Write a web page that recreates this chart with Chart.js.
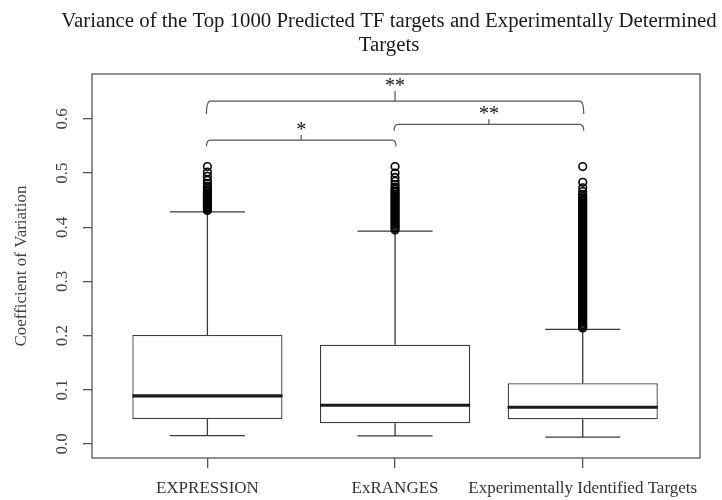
<!DOCTYPE html>
<html>
<head>
<meta charset="utf-8">
<script src="https://cdn.jsdelivr.net/npm/chart.js@4.4.1/dist/chart.umd.min.js"></script>
<style>
  html, body { margin: 0; padding: 0; background: #ffffff; }
  #wrap { width: 722px; height: 500px; }
</style>
</head>
<body>
<div id="wrap"><canvas id="chart" width="722" height="500"></canvas></div>
<script>
// Coefficient of variation per target set: five-number summaries
const categories = ['EXPRESSION', 'ExRANGES', 'Experimentally Identified Targets'];
const lowerWhisker  = [0.0153, 0.0148, 0.0124];
const firstQuartile = [0.0460, 0.0380, 0.0456];
const medians       = [0.0886, 0.0714, 0.0677];
const thirdQuartile = [0.2010, 0.1830, 0.1120];
const upperWhisker  = [0.4286, 0.3930, 0.2116];

// Points beyond the upper whisker
const expressionOutliers = [
  0.431, 0.433, 0.435, 0.437, 0.439, 0.441, 0.443, 0.445, 0.447, 0.449,
  0.451, 0.453, 0.455, 0.457, 0.459, 0.461, 0.463, 0.466, 0.469, 0.472,
  0.476, 0.481, 0.487, 0.494, 0.502, 0.512
];
const exrangesOutliers = [
  0.395, 0.398, 0.401, 0.404, 0.407, 0.410, 0.413, 0.416, 0.419, 0.422,
  0.425, 0.428, 0.431, 0.434, 0.437, 0.440, 0.443, 0.446, 0.449, 0.452,
  0.455, 0.458, 0.461, 0.464, 0.467, 0.470, 0.474, 0.479, 0.485, 0.492,
  0.500, 0.512
];
const experimentalOutliers = [
  0.214, 0.217, 0.220, 0.223, 0.226, 0.229, 0.232, 0.235, 0.238, 0.241,
  0.244, 0.247, 0.250, 0.253, 0.256, 0.259, 0.262, 0.265, 0.268, 0.271,
  0.274, 0.277, 0.280, 0.283, 0.286, 0.289, 0.292, 0.295, 0.298, 0.301,
  0.304, 0.307, 0.310, 0.313, 0.316, 0.319, 0.322, 0.325, 0.328, 0.331,
  0.334, 0.337, 0.340, 0.343, 0.346, 0.349, 0.352, 0.355, 0.358, 0.361,
  0.364, 0.367, 0.370, 0.373, 0.376, 0.379, 0.382, 0.385, 0.388, 0.391,
  0.394, 0.397, 0.400, 0.403, 0.406, 0.409, 0.412, 0.415, 0.418, 0.421,
  0.424, 0.427, 0.430, 0.433, 0.436, 0.439, 0.442, 0.445, 0.448, 0.451,
  0.454, 0.457, 0.461, 0.466, 0.473, 0.483, 0.512
];

const yTickValues = [0.0, 0.1, 0.2, 0.3, 0.4, 0.5, 0.6];

const titleLines = ['Variance of the Top 1000 Predicted TF targets and Experimentally Determined', 'Targets'];

// Pairwise significance brackets (category indices, label, height in CV units)
const comparisons = [
  { from: 0, to: 1, label: '*',  level: 0.561 },
  { from: 1, to: 2, label: '**', level: 0.590 },
  { from: 0, to: 2, label: '**', level: 0.633 }
];

const serif = "'Liberation Serif', 'Times New Roman', Times, serif";
const lineColor = '#3a3a3a';

const outlierPoints = [];
[expressionOutliers, exrangesOutliers, experimentalOutliers].forEach((vals, i) => {
  vals.forEach(v => outlierPoints.push({ x: i + 1, y: v }));
});

// Whiskers, medians, frame, title, rotated y labels and brackets
const boxExtras = {
  id: 'boxExtras',
  beforeDatasetsDraw(chart) {
    const { ctx, scales: { x, y } } = chart;
    ctx.save();
    ctx.strokeStyle = lineColor;
    ctx.lineWidth = 1.3;
    categories.forEach((c, i) => {
      const cx = x.getPixelForValue(i + 1);
      const capL = x.getPixelForValue(i + 1 - 0.2);
      const capR = x.getPixelForValue(i + 1 + 0.2);
      ctx.beginPath();
      ctx.moveTo(cx, y.getPixelForValue(thirdQuartile[i]));
      ctx.lineTo(cx, y.getPixelForValue(upperWhisker[i]));
      ctx.moveTo(cx, y.getPixelForValue(firstQuartile[i]));
      ctx.lineTo(cx, y.getPixelForValue(lowerWhisker[i]));
      ctx.moveTo(capL, y.getPixelForValue(upperWhisker[i]));
      ctx.lineTo(capR, y.getPixelForValue(upperWhisker[i]));
      ctx.moveTo(capL, y.getPixelForValue(lowerWhisker[i]));
      ctx.lineTo(capR, y.getPixelForValue(lowerWhisker[i]));
      ctx.stroke();
    });
    ctx.restore();
  },
  afterDatasetDraw(chart, args) {
    if (args.index !== 0) return;
    const { ctx, scales: { x, y } } = chart;
    ctx.save();
    ctx.strokeStyle = '#1a1a1a';
    ctx.lineWidth = 3.2;
    categories.forEach((c, i) => {
      const my = y.getPixelForValue(medians[i]);
      ctx.beginPath();
      ctx.moveTo(x.getPixelForValue(i + 1 - 0.4), my);
      ctx.lineTo(x.getPixelForValue(i + 1 + 0.4), my);
      ctx.stroke();
    });
    ctx.restore();
  },
  afterDraw(chart) {
    const { ctx, chartArea: a, scales: { x, y } } = chart;
    ctx.save();
    // plot frame
    ctx.strokeStyle = '#555';
    ctx.lineWidth = 1.3;
    ctx.strokeRect(a.left, a.top, a.right - a.left, a.bottom - a.top);

    // two-line title
    ctx.fillStyle = '#1a1a1a';
    ctx.font = '20.8px ' + serif;
    ctx.textAlign = 'center';
    ctx.textBaseline = 'middle';
    titleLines.forEach((t, k) => ctx.fillText(t, 389, 22 + k * 24));

    // y tick labels, reading upward
    ctx.fillStyle = '#444';
    ctx.font = '17px ' + serif;
    yTickValues.forEach(v => {
      ctx.save();
      ctx.translate(a.left - 29, y.getPixelForValue(v));
      ctx.rotate(-Math.PI / 2);
      ctx.fillText(v.toFixed(1), 0, 0);
      ctx.restore();
    });

    // significance brackets
    ctx.strokeStyle = '#555';
    ctx.lineWidth = 1.2;
    ctx.fillStyle = '#111';
    ctx.textBaseline = 'alphabetic';
    comparisons.forEach(b => {
      const span = b.to - b.from;
      const hook = 6.5 * span;
      const tick = 5 * span;
      const x1 = x.getPixelForValue(b.from + 1);
      const x2 = x.getPixelForValue(b.to + 1);
      const yy = y.getPixelForValue(b.level);
      const xm = (x1 + x2) / 2;
      ctx.beginPath();
      ctx.moveTo(x1 - 1, yy + hook);
      ctx.quadraticCurveTo(x1 - 1, yy, x1 + 3, yy);
      ctx.lineTo(x2 - 3, yy);
      ctx.quadraticCurveTo(x2 + 1, yy, x2 + 1, yy + hook);
      ctx.moveTo(xm, yy);
      ctx.lineTo(xm, yy - tick);
      ctx.stroke();
      ctx.font = '20px ' + serif;
      ctx.fillText(b.label, xm, yy - tick + 1);
    });
    ctx.restore();
  }
};

new Chart(document.getElementById('chart'), {
  type: 'bar',
  data: {
    datasets: [
      {
        type: 'bar',
        data: categories.map((c, i) => ({ x: i + 1, y: [firstQuartile[i], thirdQuartile[i]] })),
        backgroundColor: '#ffffff',
        borderColor: lineColor,
        borderWidth: 1.3,
        borderSkipped: false,
        barPercentage: 0.8,
        categoryPercentage: 1.0,
        order: 2
      },
      {
        type: 'scatter',
        data: outlierPoints,
        pointStyle: 'circle',
        pointRadius: 3.8,
        pointBorderWidth: 1.6,
        borderColor: '#000000',
        backgroundColor: 'rgba(0,0,0,0)',
        order: 1
      }
    ]
  },
  options: {
    responsive: false,
    animation: false,
    events: [],
    layout: { padding: { left: 0, right: 22, top: 74, bottom: 0 } },
    plugins: {
      legend: { display: false },
      tooltip: { enabled: false },
      title: { display: false }
    },
    scales: {
      x: {
        type: 'linear',
        offset: false,
        min: 0.385,
        max: 3.625,
        afterBuildTicks: s => { s.ticks = categories.map((c, i) => ({ value: i + 1 })); },
        afterFit: s => { s.height = 42; },
        ticks: {
          callback: (v, i) => categories[i],
          color: '#333',
          font: { family: serif, size: 17 },
          padding: 10,
          maxRotation: 0,
          minRotation: 0,
          autoSkip: false
        },
        grid: { offset: false, drawOnChartArea: false, drawTicks: true, tickLength: 10, color: '#555', lineWidth: 1.3 },
        border: { display: false }
      },
      y: {
        type: 'linear',
        min: -0.026,
        max: 0.683,
        afterBuildTicks: s => { s.ticks = yTickValues.map(v => ({ value: v })); },
        afterFit: s => { s.width = 92; },
        ticks: { display: false },
        grid: { drawOnChartArea: false, drawTicks: true, tickLength: 9, color: '#555', lineWidth: 1.3 },
        border: { display: false },
        title: {
          display: true,
          text: 'Coefficient of Variation',
          color: '#444',
          font: { family: serif, size: 17 },
          padding: { top: 11, bottom: 0 }
        }
      }
    }
  },
  plugins: [boxExtras]
});
</script>
</body>
</html>
